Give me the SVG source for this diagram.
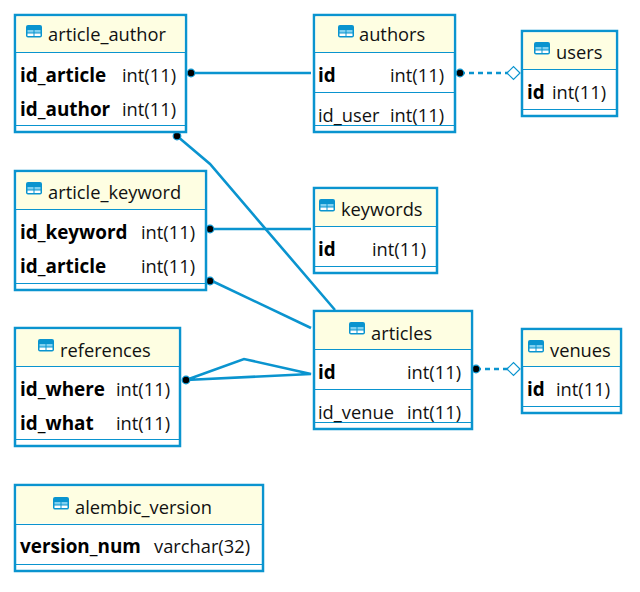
<svg xmlns="http://www.w3.org/2000/svg" width="640" height="592" viewBox="0 0 640 592">
<style>
.box{fill:#fff;stroke:#0a94cf;stroke-width:2.500}
.hd{fill:#fefee2}
.ln{stroke:#0a94cf;stroke-width:1;fill:none}
.c{stroke:#0a94cf;stroke-width:2.600;fill:none}
.d{stroke-dasharray:5 4}
.dot{fill:#000;stroke:#0a94cf;stroke-width:1.200}
.dia{fill:#fff;stroke:#0a94cf;stroke-width:1.200}
text{font-family:"Open Sans","Noto Sans","Liberation Sans",sans-serif;font-size:18.300px;fill:#111}
.b{font-weight:700;font-size:18.900px;fill:#000}
</style>
<defs>
<g id="ic"><rect x="0" y="0" width="16" height="12.500" rx="2" fill="#0a94cf"/><rect x="1.500" y="5" width="6" height="2.500" fill="#7fd0f0"/><rect x="8.500" y="5" width="6" height="2.500" fill="#7fd0f0"/><rect x="1.500" y="8.500" width="6" height="2.500" fill="#fff"/><rect x="8.500" y="8.500" width="6" height="2.500" fill="#fff"/></g>
</defs>
<g id="connectors">
<path class="c" d="M191 73H311"/>
<path class="c d" d="M460 73H508"/>
<path class="c" d="M177 136L210 164L335 310"/>
<path class="c" d="M210 229H311"/>
<path class="c" d="M210 280L311 328"/>
<path class="c" d="M186 380L244 359L311 374L186 380"/>
<path class="c d" d="M476 369H508"/>
<circle class="dot" cx="191" cy="73" r="3.800"/><circle class="dot" cx="460" cy="73" r="3.800"/>
<circle class="dot" cx="177" cy="136" r="3.800"/><circle class="dot" cx="210" cy="229" r="3.800"/>
<circle class="dot" cx="210" cy="281" r="3.800"/><circle class="dot" cx="186" cy="380" r="3.800"/>
<circle class="dot" cx="476" cy="369" r="3.800"/>
<path class="dia" d="M507 73l6.500-6.500 6.500 6.500-6.500 6.500z"/>
<path class="dia" d="M507 369l6.500-6.500 6.500 6.500-6.500 6.500z"/>
</g>
<g id="article_author">
<rect class="box" x="15" y="15" width="171" height="117"/><rect class="hd" x="16.500" y="16.500" width="168" height="35.500"/>
<path class="ln" d="M15 52.500H186M15 125.500H186"/><use href="#ic" x="26" y="25"/>
<text x="48" y="41">article_author</text>
<text class="b" x="20" y="82">id_article</text><text x="122" y="82">int(11)</text>
<text class="b" x="20" y="116">id_author</text><text x="122" y="116">int(11)</text>
</g>
<g id="authors">
<rect class="box" x="314" y="15" width="141" height="117"/><rect class="hd" x="315.500" y="16.500" width="138" height="35.500"/>
<path class="ln" d="M314 52.500H455M314 92.500H455M314 125.500H455"/><use href="#ic" x="338" y="25"/>
<text x="359" y="41">authors</text>
<text class="b" x="318" y="82">id</text><text x="390" y="82">int(11)</text>
<text x="318" y="122">id_user</text><text x="390" y="122">int(11)</text>
</g>
<g id="users">
<rect class="box" x="522" y="31" width="95" height="85"/><rect class="hd" x="523.500" y="32.500" width="92" height="36.500"/>
<path class="ln" d="M522 69.500H617M522 109.500H617"/><use href="#ic" x="534" y="42"/>
<text x="556" y="59">users</text>
<text class="b" x="527" y="99">id</text><text x="552" y="99">int(11)</text>
</g>
<g id="article_keyword">
<rect class="box" x="15" y="171" width="191" height="119"/><rect class="hd" x="16.500" y="172.500" width="188" height="36.500"/>
<path class="ln" d="M15 209.500H206M15 283.500H206"/><use href="#ic" x="26" y="182"/>
<text x="48" y="199">article_keyword</text>
<text class="b" x="20" y="239">id_keyword</text><text x="141" y="239">int(11)</text>
<text class="b" x="20" y="273">id_article</text><text x="141" y="273">int(11)</text>
</g>
<g id="keywords">
<rect class="box" x="314" y="188" width="123" height="85"/><rect class="hd" x="315.500" y="189.500" width="120" height="36.500"/>
<path class="ln" d="M314 226.500H437M314 266.500H437"/><use href="#ic" x="319" y="199"/>
<text x="341" y="216">keywords</text>
<text class="b" x="318" y="256">id</text><text x="372" y="256">int(11)</text>
</g>
<g id="references">
<rect class="box" x="15" y="328" width="165" height="118"/><rect class="hd" x="16.500" y="329.500" width="162" height="36.500"/>
<path class="ln" d="M15 366.500H180M15 439.500H180"/><use href="#ic" x="38" y="339"/>
<text x="60" y="357">references</text>
<text class="b" x="20" y="396">id_where</text><text x="116" y="396">int(11)</text>
<text class="b" x="20" y="430">id_what</text><text x="116" y="430">int(11)</text>
</g>
<g id="articles">
<rect class="box" x="314" y="311" width="158" height="118"/><rect class="hd" x="315.500" y="312.500" width="155" height="36.500"/>
<path class="ln" d="M314 349.500H472M314 389.500H472M314 422.500H472"/><use href="#ic" x="349" y="322"/>
<text x="371" y="340">articles</text>
<text class="b" x="318" y="379">id</text><text x="407" y="379">int(11)</text>
<text x="318" y="419">id_venue</text><text x="407" y="419">int(11)</text>
</g>
<g id="venues">
<rect class="box" x="522" y="329" width="99" height="84"/><rect class="hd" x="523.500" y="330.500" width="96" height="35.500"/>
<path class="ln" d="M522 366.500H621M522 406.500H621"/><use href="#ic" x="528" y="340"/>
<text x="550" y="357">venues</text>
<text class="b" x="527" y="396">id</text><text x="556" y="396">int(11)</text>
</g>
<g id="alembic_version">
<rect class="box" x="15" y="485" width="248" height="86"/><rect class="hd" x="16.500" y="486.500" width="245" height="37"/>
<path class="ln" d="M15 524.500H263M15 564.500H263"/><use href="#ic" x="53" y="497"/>
<text x="75" y="514">alembic_version</text>
<text class="b" x="20" y="553">version_num</text><text x="154" y="553">varchar(32)</text>
</g>
</svg>
